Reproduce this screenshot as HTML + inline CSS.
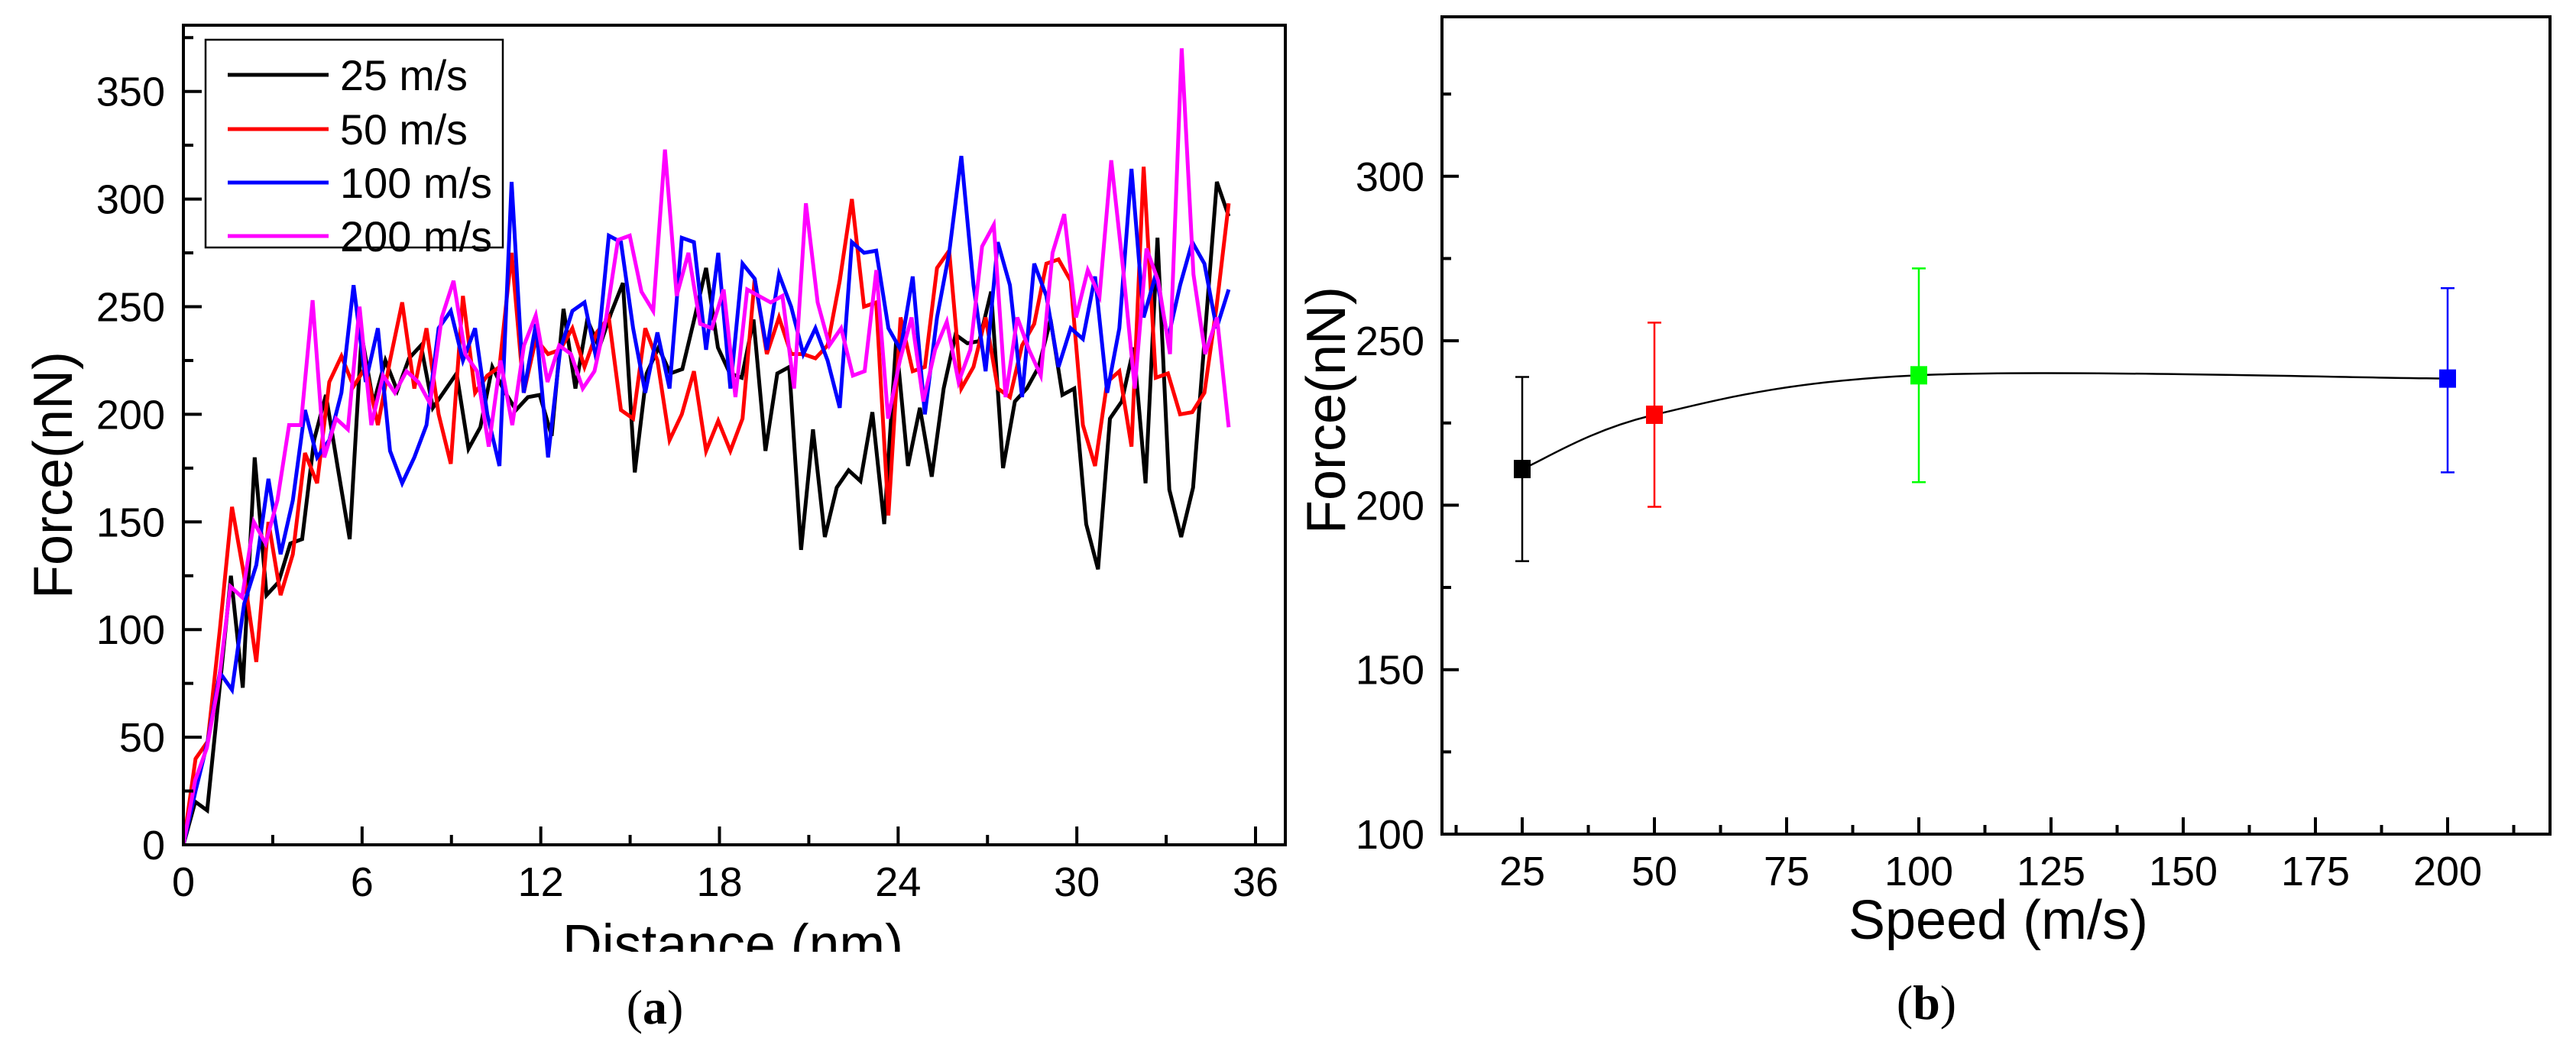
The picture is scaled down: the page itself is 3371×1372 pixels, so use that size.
<!DOCTYPE html>
<html><head><meta charset="utf-8"><style>
html,body{margin:0;padding:0;background:#fff;}
svg{display:block;}
text{font-family:"Liberation Sans",Arial,sans-serif;fill:#000;}
</style></head><body>
<svg id="fig" width="3371" height="1372" viewBox="0 0 3371 1372" xmlns="http://www.w3.org/2000/svg">
<defs><clipPath id="clipA"><rect x="240" y="33" width="1442" height="1073"/></clipPath>
<clipPath id="clipT"><rect x="0" y="1180" width="1700" height="66"/></clipPath></defs>
<g id="panelA"></g>
<g id="panelB"></g>
</svg>
<script>
// ---------- Panel (a) data ----------
const seriesNames = ["25 m/s","50 m/s","100 m/s","200 m/s"];
const seriesColors = ["#000000","#ff0000","#0000ff","#ff00ff"];
const xMaxDistance = 35.1;
const force25 = [0,20,16,70,125,73,180,116,122,140,142,188,209,175,142,237,205,225,211,226,232,203,211,219,184,194,222,211,202,208,209,190,249,212,244,231,247,261,173,219,231,219,221,244,268,231,219,217,244,183,219,222,137,193,143,166,174,169,201,149,234,176,203,171,212,237,233,234,257,175,206,212,222,244,209,212,149,128,198,206,231,168,282,165,143,166,237,308,292];
const force50 = [0,40,48,100,157,125,85,150,116,135,182,168,215,227,213,222,195,225,252,212,240,200,177,255,210,218,222,275,210,235,228,230,240,222,238,245,202,198,240,225,188,200,220,183,197,183,198,263,228,245,228,228,226,232,262,300,250,252,153,245,220,222,268,276,212,222,245,212,208,232,242,270,272,262,195,176,215,220,185,315,217,219,200,201,210,250,298];
const force100 = [0,25,48,80,72,112,130,170,135,160,202,180,188,210,260,215,240,183,168,180,195,240,248,225,240,200,176,308,210,242,180,230,248,252,225,283,280,240,210,238,212,282,280,230,275,212,270,263,230,265,250,228,240,225,203,280,275,276,240,230,264,200,245,275,320,260,220,280,260,208,270,255,222,240,235,264,210,240,314,245,265,235,260,280,270,240,258];
const force200 = [0,30,45,75,120,115,150,140,160,195,195,253,180,198,193,250,195,218,210,220,215,205,245,262,228,220,185,225,195,232,246,215,232,228,212,220,245,281,283,257,248,323,255,275,242,240,258,208,258,255,252,255,212,298,252,232,240,218,220,267,198,225,245,206,230,243,215,230,278,288,208,245,230,218,275,293,245,267,255,318,268,212,277,262,228,370,265,228,245,194];
const xTicksA = [0,6,12,18,24,30,36];
const yTicksA = [0,50,100,150,200,250,300,350];

// ---------- Panel (b) data ----------
const speeds = [25,50,100,200];
const meanForce = [211,227.5,239.5,238.5];
const errLow = [183,199.5,207,210];
const errHigh = [239,255.5,272,266];
const pointColors = ["#000000","#ff0000","#00ff00","#0000ff"];
const xTicksB = [25,50,75,100,125,150,175,200];
const yTicksB = [100,150,200,250,300];

const NS="http://www.w3.org/2000/svg";
function mk(parent,tag,attrs,txt){const e=document.createElementNS(NS,tag);for(const k in attrs)e.setAttribute(k,attrs[k]);if(txt!==undefined)e.textContent=txt;parent.appendChild(e);return e;}

// ---------- Panel A ----------
(function(){
const g=document.getElementById('panelA');
const L=240,R=1682,T=33,B=1106;
const xA=v=>L+v*(1643-240)/36;
const yA=v=>B-v*2.818;
const all=[force25,force50,force100,force200];
all.forEach((arr,si)=>{
  const n=arr.length;
  const pts=arr.map((v,i)=>xA(i*xMaxDistance/(n-1)).toFixed(1)+','+yA(v).toFixed(1)).join(' ');
  const p=mk(g,'polyline',{points:pts,fill:'none',stroke:seriesColors[si],'stroke-width':5,'stroke-linejoin':'miter','clip-path':'url(#clipA)'});
  
  
});
const fr=mk(g,'rect',{x:L,y:T,width:R-L,height:B-T,fill:'none',stroke:'#000','stroke-width':4});


for(let v=0;v<=36;v+=3){const major=v%6===0;const t=mk(g,'line',{x1:xA(v),x2:xA(v),y1:B,y2:B-(major?24:13),stroke:'#000','stroke-width':4});

}
xTicksA.forEach(v=>{const t=mk(g,'text',{x:xA(v),y:1173,'font-size':54,'text-anchor':'middle'},String(v));

});
for(let v=0;v<=375;v+=25){const major=v%50===0;const t=mk(g,'line',{x1:L,x2:L+(major?24:13),y1:yA(v),y2:yA(v),stroke:'#000','stroke-width':4});

}
yTicksA.forEach(v=>{const t=mk(g,'text',{x:216,y:yA(v)+19,'font-size':54,'text-anchor':'end'},String(v));

});
const yt=mk(g,'text',{x:0,y:0,'font-size':72,'text-anchor':'middle',transform:'translate(94,622) rotate(-90)',textLength:324,lengthAdjust:'spacingAndGlyphs'},'Force(nN)');


const xt=mk(g,'text',{x:959,y:1262,'font-size':74,'text-anchor':'middle','clip-path':'url(#clipT)',textLength:446,lengthAdjust:'spacingAndGlyphs'},'Distance (nm)');


const cap=mk(g,'text',{x:857,y:1340,'font-size':64,'text-anchor':'middle'});


cap.innerHTML='(<tspan font-weight="bold">a</tspan>)';
cap.style.fontFamily='"Liberation Serif",serif';
const lg=mk(g,'g',{});


mk(lg,'rect',{x:269,y:52,width:389,height:272,fill:'#fff',stroke:'#000','stroke-width':2.5});
const ly=[98,169,239,309];
const lw=[167,167,199,199];
seriesNames.forEach((nm,i)=>{
  const e=mk(lg,'g',{});
  
  
  mk(e,'line',{x1:298,x2:430,y1:ly[i],y2:ly[i],stroke:seriesColors[i],'stroke-width':5});
  mk(e,'text',{x:445,y:ly[i]+20,'font-size':56,textLength:lw[i],lengthAdjust:'spacingAndGlyphs'},nm);
});
})();

// ---------- Panel B ----------
(function(){
const g=document.getElementById('panelB');
const L=1887,R=3337,T=22,B=1092;
const xB=v=>1992+(v-25)*(3203-1992)/175;
const yB=v=>B-(v-100)*4.306;
// smooth curve through data points (Catmull-Rom, non-uniform x)
const P=speeds.map((s,i)=>[xB(s),yB(meanForce[i])]);
let d='';
for(let i=0;i<P.length-1;i++){
  const p0=P[Math.max(0,i-1)],p1=P[i],p2=P[i+1],p3=P[Math.min(P.length-1,i+2)];
  const t=6;
  const c1=[p1[0]+(p2[0]-p0[0])/t,p1[1]+(p2[1]-p0[1])/t];
  const c2=[p2[0]-(p3[0]-p1[0])/t,p2[1]-(p3[1]-p1[1])/t];
  if(i===0)d+='M'+p1[0].toFixed(1)+','+p1[1].toFixed(1);
  d+=' C'+c1[0].toFixed(1)+','+c1[1].toFixed(1)+' '+c2[0].toFixed(1)+','+c2[1].toFixed(1)+' '+p2[0].toFixed(1)+','+p2[1].toFixed(1);
}
const fit=mk(g,'path',{d:d,fill:'none',stroke:'#000','stroke-width':2.5});


speeds.forEach((s,i)=>{
  const grp=mk(g,'g',{});
  
  
  const x=xB(s);
  mk(grp,'line',{x1:x,x2:x,y1:yB(errLow[i]),y2:yB(errHigh[i]),stroke:pointColors[i],'stroke-width':2.5});
  mk(grp,'line',{x1:x-9,x2:x+9,y1:yB(errLow[i]),y2:yB(errLow[i]),stroke:pointColors[i],'stroke-width':2.5});
  mk(grp,'line',{x1:x-9,x2:x+9,y1:yB(errHigh[i]),y2:yB(errHigh[i]),stroke:pointColors[i],'stroke-width':2.5});
  mk(grp,'rect',{x:x-11,y:yB(meanForce[i])-12,width:22,height:24,fill:pointColors[i]});
});
const fr=mk(g,'rect',{x:L,y:T,width:R-L,height:B-T,fill:'none',stroke:'#000','stroke-width':4});


for(let v=12.5;v<=212.5;v+=12.5){const major=Math.abs(v%25)<0.01;const t=mk(g,'line',{x1:xB(v),x2:xB(v),y1:B,y2:B-(major?22:12),stroke:'#000','stroke-width':4});

}
xTicksB.forEach(v=>{const t=mk(g,'text',{x:xB(v),y:1159,'font-size':54,'text-anchor':'middle'},String(v));

});
for(let v=100;v<=325;v+=25){const major=v%50===0;const t=mk(g,'line',{x1:L,x2:L+(major?22:12),y1:yB(v),y2:yB(v),stroke:'#000','stroke-width':4});

}
yTicksB.forEach(v=>{const t=mk(g,'text',{x:1864,y:yB(v)+19,'font-size':54,'text-anchor':'end'},String(v));

});
const yt=mk(g,'text',{x:0,y:0,'font-size':72,'text-anchor':'middle',transform:'translate(1760,537) rotate(-90)',textLength:324,lengthAdjust:'spacingAndGlyphs'},'Force(nN)');


const xt=mk(g,'text',{x:2615,y:1229,'font-size':72,'text-anchor':'middle',textLength:392,lengthAdjust:'spacingAndGlyphs'},'Speed (m/s)');


const cap=mk(g,'text',{x:2521,y:1334,'font-size':64,'text-anchor':'middle'});


cap.innerHTML='(<tspan font-weight="bold">b</tspan>)';
cap.style.fontFamily='"Liberation Serif",serif';
})();
</script>
</body></html>
